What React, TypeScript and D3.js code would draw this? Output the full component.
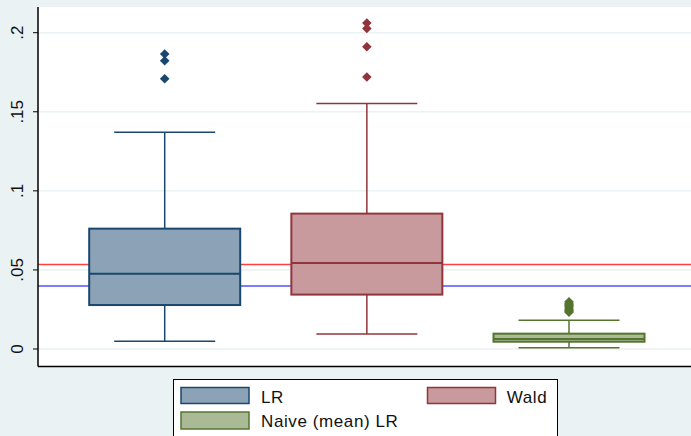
import React from "react";
import * as d3 from "d3";

const categories = ["LR", "Wald", "Naive (mean) LR"];
const lowerWhisker = [0.0049, 0.0095, 0.0008];
const q1 = [0.0278, 0.0344, 0.0046];
const median = [0.0476, 0.0544, 0.0063];
const q3 = [0.0761, 0.0856, 0.0097];
const upperWhisker = [0.1371, 0.1553, 0.0182];
const outliersLR = [0.1865, 0.1823, 0.1709];
const outliersWald = [0.2061, 0.2027, 0.1911, 0.172];
const outliersNaive = [0.0298, 0.029, 0.0282, 0.0275, 0.0268, 0.026, 0.0252, 0.0245, 0.0238, 0.0233];
const outliers = [outliersLR, outliersWald, outliersNaive];
const refLines = [0.0534, 0.0399];
const refColors = ["#ff4040", "#5050ff"];
const yTicks = [0, 0.05, 0.1, 0.15, 0.2];
const yTickLabels = ["0", ".05", ".1", ".15", ".2"];

const strokeColors = ["#1a476f", "#90353b", "#55752f"];
const fillColors = ["#8ca3b7", "#c89a9d", "#aaba97"];

const W = 691;
const H = 436;
const plotLeft = 38;
const plotRight = 691;
const plotTop = 7;
const plotBottom = 366.5;
const FONT = "'Liberation Sans', Arial, sans-serif";

export default function App() {
  const y = d3.scaleLinear().domain([0, 0.2]).range([349, 32.7]);
  const x = d3.scalePoint<string>().domain(categories).range([164.7, 569]);
  const boxW = 151;
  const capW = 101;
  const diamond = (cx: number, cy: number, r: number) =>
    `M${cx},${cy - r}L${cx + r},${cy}L${cx},${cy + r}L${cx - r},${cy}Z`;

  return (
    <svg
      width={W}
      height={H}
      style={{ position: "absolute", left: 0, top: 0, display: "block" }}
      fontFamily={FONT}
    >
      <rect x={0} y={0} width={W} height={H} fill="#eaf2f3" />
      <rect x={plotLeft} y={plotTop} width={plotRight - plotLeft} height={plotBottom - plotTop} fill="#ffffff" />
      {yTicks.map((t, i) => (
        <g key={"t" + i}>
          <line x1={plotLeft} x2={plotRight} y1={y(t)} y2={y(t)} stroke="#eaf2f3" strokeWidth={1.5} />
          <line x1={plotLeft - 5} x2={plotLeft} y1={y(t)} y2={y(t)} stroke="#000" strokeWidth={1} />
          <text
            x={23}
            y={y(t)}
            transform={`rotate(-90, 23, ${y(t)})`}
            textAnchor="middle"
            fontSize={17}
            fill="#111"
          >
            {yTickLabels[i]}
          </text>
        </g>
      ))}
      {refLines.map((v, i) => (
        <line key={"r" + i} x1={plotLeft} x2={plotRight} y1={y(v)} y2={y(v)} stroke={refColors[i]} strokeWidth={1.5} />
      ))}
      {categories.map((c, i) => {
        const cx = x(c) as number;
        return (
          <g key={c}>
            <line x1={cx} x2={cx} y1={y(upperWhisker[i])} y2={y(q3[i])} stroke={strokeColors[i]} strokeWidth={1.5} />
            <line x1={cx} x2={cx} y1={y(q1[i])} y2={y(lowerWhisker[i])} stroke={strokeColors[i]} strokeWidth={1.5} />
            <line x1={cx - capW / 2} x2={cx + capW / 2} y1={y(upperWhisker[i])} y2={y(upperWhisker[i])} stroke={strokeColors[i]} strokeWidth={1.5} />
            <line x1={cx - capW / 2} x2={cx + capW / 2} y1={y(lowerWhisker[i])} y2={y(lowerWhisker[i])} stroke={strokeColors[i]} strokeWidth={1.5} />
            <rect
              x={cx - boxW / 2}
              y={y(q3[i])}
              width={boxW}
              height={y(q1[i]) - y(q3[i])}
              fill={fillColors[i]}
              stroke={strokeColors[i]}
              strokeWidth={2}
            />
            <line x1={cx - boxW / 2} x2={cx + boxW / 2} y1={y(median[i])} y2={y(median[i])} stroke={strokeColors[i]} strokeWidth={2} />
            {outliers[i].map((v, j) => (
              <path key={j} d={diamond(cx, y(v), 4.8)} fill={strokeColors[i]} />
            ))}
          </g>
        );
      })}
      <line x1={plotLeft} x2={plotLeft} y1={plotTop} y2={plotBottom} stroke="#000" strokeWidth={1.5} />
      <line x1={plotLeft} x2={plotRight} y1={plotBottom} y2={plotBottom} stroke="#000" strokeWidth={1.5} />
      <rect x={173.5} y={379.5} width={384} height={70} fill="#fff" stroke="#000" strokeWidth={1} />
      <rect x={181} y={387.5} width={68} height={16} fill={fillColors[0]} stroke={strokeColors[0]} strokeWidth={1.5} />
      <text x={261} y={402.7} fontSize={17} letterSpacing={0.6} fill="#111">{categories[0]}</text>
      <rect x={427.5} y={387.5} width={68} height={16} fill={fillColors[1]} stroke={strokeColors[1]} strokeWidth={1.5} />
      <text x={506.7} y={402.7} fontSize={17} letterSpacing={0.6} fill="#111">{categories[1]}</text>
      <rect x={181} y={412} width={68} height={17} fill={fillColors[2]} stroke={strokeColors[2]} strokeWidth={1.5} />
      <text x={261} y={426.7} fontSize={17} letterSpacing={0.6} fill="#111">{categories[2]}</text>
    </svg>
  );
}
